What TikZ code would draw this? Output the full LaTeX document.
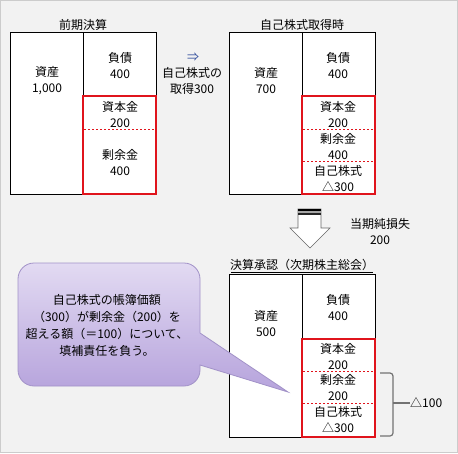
\documentclass[tikz,border=0pt]{standalone}
\usepackage{fontspec}
\setmainfont{Noto Sans CJK JP}
\definecolor{bg}{HTML}{F2F2F2}
\definecolor{redbox}{HTML}{E0141C}
\definecolor{arrowblue}{HTML}{3A55A0}
\definecolor{calltop}{HTML}{E2DAF2}
\definecolor{callbot}{HTML}{B6A3DC}
\definecolor{callline}{HTML}{A292C8}
\begin{document}
\begin{tikzpicture}[x=1pt,y=-1pt,
  txt/.style={align=center,font=\fontsize{12}{16}\selectfont,inner sep=0pt},
  sheet/.style={draw=black,line width=1pt,fill=white},
  equity/.style={draw=redbox,line width=2pt},
  sep/.style={draw=redbox,line width=1pt,dash pattern=on 2pt off 2pt},
  bracecol/.style={draw=black!55,line width=1.2pt}]
\useasboundingbox (0,0) rectangle (458,453);
\fill[bg] (0,0) rectangle (458,453);
\draw[black!20] (0.5,0.5) rectangle (457.5,452.5);

% ---------- sheet 1 ----------
\node[txt] (t1) at (83,25) {前期決算};
\draw[sheet] (10,32) rectangle (156,194);
\draw[line width=1pt] (83,32) -- (83,96);
\draw[sep] (84,129) -- (155,129);
\draw[equity] (83,96) rectangle (156,194);
\node[txt] (a1) at (47,81) {資産\\1,000};
\node[txt] (l1) at (120,66) {負債\\400};
\node[txt] (c1) at (120,115) {資本金\\200};
\node[txt] (s1) at (120,163) {剰余金\\400};

% ---------- transition ----------
\node[txt,text=arrowblue] (ar) at (193,57) {⇒};
\node[txt] (acq) at (192,81) {自己株式の\\取得300};

% ---------- sheet 2 ----------
\node[txt] (t2) at (302,25) {自己株式取得時};
\draw[sheet] (229,32) rectangle (375,194);
\draw[line width=1pt] (302,32) -- (302,96);
\draw[sep] (303,129) -- (374,129);
\draw[sep] (303,161) -- (374,161);
\draw[equity] (302,96) rectangle (375,194);
\node[txt] (a2) at (266,81) {資産\\700};
\node[txt] (l2) at (338,66) {負債\\400};
\node[txt] (c2) at (338,115) {資本金\\200};
\node[txt] (s2) at (338,147) {剰余金\\400};
\node[txt] (k2) at (338,179) {自己株式\\△300};

% ---------- block arrow ----------
\draw[fill=white,draw=black!60,line width=0.6pt] (298,209) -- (321,209) -- (321,228) -- (330,228) -- (310,248) -- (290,228) -- (298,228) -- cycle;
\fill[black] (298,209) rectangle (321,211);
\fill[black!35] (298,211) rectangle (321,212.5);
\fill[black!85] (298,212.5) rectangle (321,215);
\node[txt] (loss) at (380,232) {当期純損失\\200};

% ---------- sheet 3 ----------
\node[txt] (t3) at (302,265) {決算承認（次期株主総会）};
\draw[black,line width=0.6pt] (231,272) -- (373,272);
\draw[sheet] (229,274) rectangle (375,437);
\draw[line width=1pt] (302,274) -- (302,339);
\draw[sep] (303,371) -- (374,371);
\draw[sep] (303,403) -- (374,403);
\draw[equity] (302,339) rectangle (375,437);
\node[txt] (a3) at (266,324) {資産\\500};
\node[txt] (l3) at (338,308) {負債\\400};
\node[txt] (c3) at (338,357) {資本金\\200};
\node[txt] (s3) at (338,388) {剰余金\\200};
\node[txt] (k3) at (338,420) {自己株式\\△300};

% ---------- brace ----------
\coordinate (bt) at (380,373);
\coordinate (bb) at (380,436);
\node[txt,anchor=west] (d3) at (410,403) {△100};
\draw[bracecol,rounded corners=3pt] (bt) -- (393,373) -- (393,436) -- (bb);
\draw[bracecol] (393,403) -- (d3.west);

% ---------- callout ----------
\path[top color=calltop,bottom color=callbot,draw=callline,line width=0.8pt]
  (200,333) -- (288,392) -- (200,365) -- (200,370)
  arc[start angle=0,end angle=90,radius=16] -- (34,386)
  arc[start angle=90,end angle=180,radius=16] -- (18,279)
  arc[start angle=180,end angle=270,radius=16] -- (184,263)
  arc[start angle=270,end angle=360,radius=16] -- cycle;
\node[txt,font=\fontsize{12}{17}\selectfont] (note) at (107,325)
  {自己株式の帳簿価額\\（300）が剰余金（200）を\\超える額（＝100）について、\\填補責任を負う。};
\end{tikzpicture}
\end{document}
